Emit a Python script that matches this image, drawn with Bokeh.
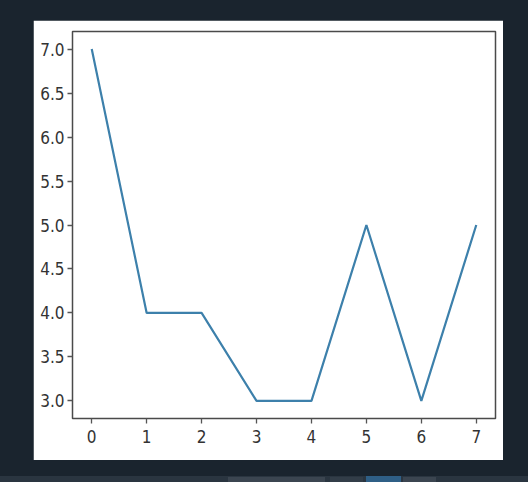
from bokeh.plotting import figure
from bokeh.layouts import column
from bokeh.models import Div, Range1d, FixedTicker, CustomJSTickFormatter
from bokeh.embed import file_html
from bokeh.resources import INLINE

# Series
x_vals = [0, 1, 2, 3, 4, 5, 6, 7]
y_vals = [7, 4, 4, 3, 3, 5, 3, 5]

# Tick positions
x_ticks = [0, 1, 2, 3, 4, 5, 6, 7]
y_ticks = [3.0, 3.5, 4.0, 4.5, 5.0, 5.5, 6.0, 6.5, 7.0]

DARK = "#1a242e"
LINE = "#3d80ab"
FONT = "DejaVu Sans Condensed"

p = figure(
    frame_width=423, frame_height=387,
    min_border_left=39, min_border_right=8,
    min_border_top=11, min_border_bottom=42,
    x_range=Range1d(-0.35, 7.35), y_range=Range1d(2.8, 7.2),
    output_backend="svg", toolbar_location=None,
    background_fill_color="white", border_fill_color="white",
    margin=(20, 25, 13, 33),
)

p.line(x_vals, y_vals, line_color=LINE, line_width=2.2)

p.grid.visible = False
p.outline_line_color = "#4a4a4a"
p.outline_line_width = 1.5
p.outline_line_alpha = 1.0

for ax in (p.xaxis[0], p.yaxis[0]):
    ax.axis_line_color = None
    ax.major_tick_line_color = "#555555"
    ax.major_tick_line_width = 1.3
    ax.major_tick_out = 5
    ax.major_tick_in = 0
    ax.minor_tick_line_color = None
    ax.major_label_text_font = FONT
    ax.major_label_text_font_size = "17px"
    ax.major_label_text_color = "#333333"

p.xaxis.ticker = FixedTicker(ticks=x_ticks)
p.yaxis.ticker = FixedTicker(ticks=y_ticks)
p.xaxis.major_label_standoff = 6
p.yaxis.major_label_standoff = 3
p.yaxis.formatter = CustomJSTickFormatter(code="return tick.toFixed(1);")

# Taskbar strip along the bottom edge
strip = Div(
    text=(
        '<div style="position:relative;width:528px;height:9px;background:#2a3540;">'
        '<div style="position:absolute;left:228px;top:1px;width:97px;height:8px;background:#3b4550;"></div>'
        '<div style="position:absolute;left:330px;top:1px;width:33px;height:8px;background:#323d48;"></div>'
        '<div style="position:absolute;left:366px;top:0px;width:35px;height:9px;background:#2f5f86;"></div>'
        '<div style="position:absolute;left:403px;top:1px;width:33px;height:8px;background:#3b4550;"></div>'
        '</div>'
    ),
    width=528, height=9, margin=(0, 0, 0, 0),
)

layout = column(p, strip, width=528, height=482, spacing=0,
                styles={"background-color": DARK})

open("out.html", "w").write(file_html(layout, INLINE))
